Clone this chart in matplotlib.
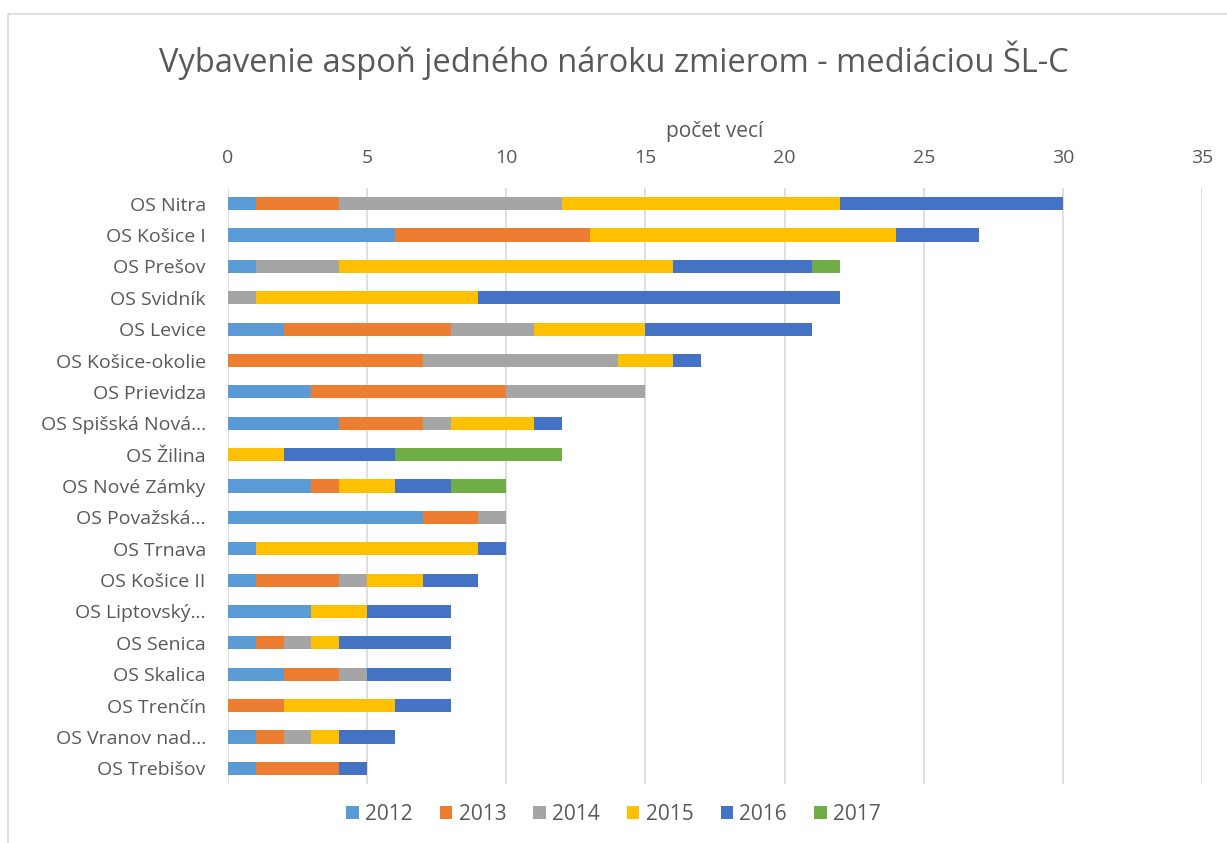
import matplotlib.pyplot as plt
import numpy as np
from matplotlib.patches import Rectangle

plt.rcParams['font.family'] = ['Open Sans', 'DejaVu Sans']

courts = ["OS Nitra", "OS Košice I", "OS Prešov", "OS Svidník", "OS Levice",
          "OS Košice-okolie", "OS Prievidza", "OS Spišská Nová...", "OS Žilina",
          "OS Nové Zámky", "OS Považská...", "OS Trnava", "OS Košice II",
          "OS Liptovský...", "OS Senica", "OS Skalica", "OS Trenčín",
          "OS Vranov nad...", "OS Trebišov"]

years = ["2012", "2013", "2014", "2015", "2016", "2017"]

v2012 = [1, 6, 1, 0, 2, 0, 3, 4, 0, 3, 7, 1, 1, 3, 1, 2, 0, 1, 1]
v2013 = [3, 7, 0, 0, 6, 7, 7, 3, 0, 1, 2, 0, 3, 0, 1, 2, 2, 1, 3]
v2014 = [8, 0, 3, 1, 3, 7, 5, 1, 0, 0, 1, 0, 1, 0, 1, 1, 0, 1, 0]
v2015 = [10, 11, 12, 8, 4, 2, 0, 3, 2, 2, 0, 8, 2, 2, 1, 0, 4, 1, 0]
v2016 = [8, 3, 5, 13, 6, 1, 0, 1, 4, 2, 0, 1, 2, 3, 4, 3, 2, 2, 1]
v2017 = [0, 0, 1, 0, 0, 0, 0, 0, 6, 2, 0, 0, 0, 0, 0, 0, 0, 0, 0]

series = [v2012, v2013, v2014, v2015, v2016, v2017]
colors = ["#5B9BD5", "#ED7D31", "#A5A5A5", "#FFC000", "#4472C4", "#70AD47"]

txt = "#595959"

fig = plt.figure(figsize=(12.27, 8.43), dpi=100)
fig.patches.append(Rectangle((8 / 1227, -0.1), 1.2, 1 - 14 / 843 + 0.1,
                             transform=fig.transFigure, fill=False,
                             edgecolor="#D9D9D9", linewidth=1.2))

ax = fig.add_axes([228 / 1227, 59 / 843, 974 / 1227, 596 / 843])

y = np.arange(len(courts))
left = np.zeros(len(courts))
for name, vals, c in zip(years, series, colors):
    vals = np.array(vals, dtype=float)
    ax.barh(y, vals, left=left, height=0.42, color=c, label=name, zorder=3)
    left += vals

ax.set_xlim(0, 35)
ax.set_ylim(len(courts) - 0.5, -0.5)
ax.set_yticks(y)
ax.set_yticklabels(courts)
ax.set_xticks(np.arange(0, 36, 5))
ax.xaxis.tick_top()
ax.xaxis.set_label_position("top")
ax.set_xlabel("počet vecí", fontsize=15, color=txt, labelpad=9)
ax.tick_params(axis="both", length=0, labelsize=14, colors=txt)
ax.tick_params(axis="x", pad=15)
ax.tick_params(axis="y", pad=16)
ax.grid(axis="x", color="#D9D9D9", linewidth=1.2, zorder=0)
for s in ax.spines.values():
    s.set_visible(False)

fig.text(0.5, 1 - 60 / 843, "Vybavenie aspoň jedného nároku zmierom - mediáciou ŠL-C",
         ha="center", va="center", fontsize=23.5, color=txt)

fig.legend(*ax.get_legend_handles_labels(), loc="center", ncol=6,
           bbox_to_anchor=(0.5, 1 - 814 / 843), frameon=False, fontsize=15,
           handlelength=0.6, handleheight=0.6, handletextpad=0.3,
           columnspacing=1.3, labelcolor=txt)

fig.savefig("out.png", dpi=100)
